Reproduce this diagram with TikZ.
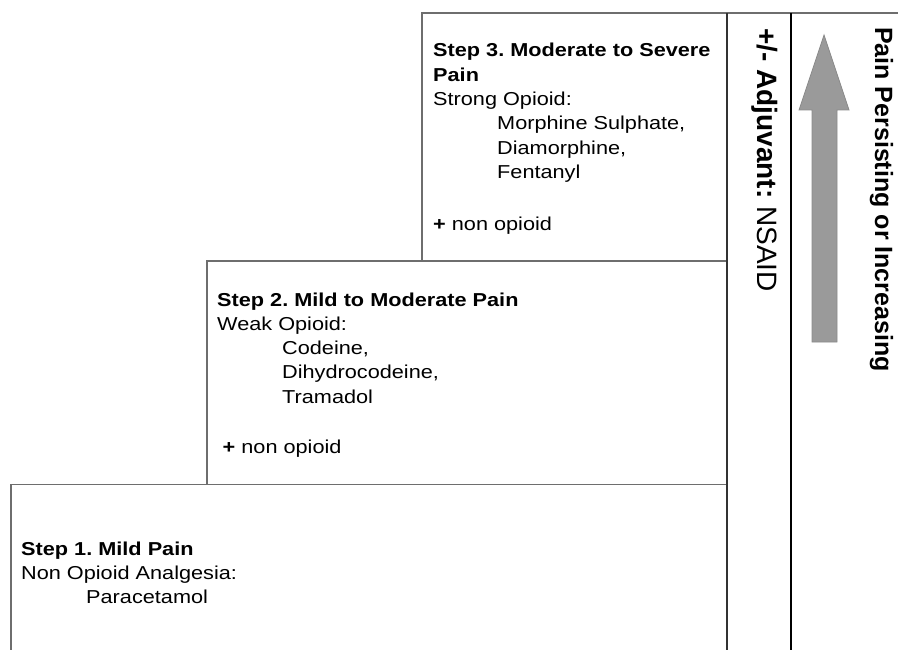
\documentclass[tikz,border=0pt]{standalone}
\usepackage{fontspec}
\setmainfont{Liberation Sans}
\newfontfamily\bodyfont[FakeStretch=1.16]{Liberation Sans}
\frenchspacing
\definecolor{boxgray}{HTML}{6E6E6E}
\definecolor{bardark}{HTML}{333333}
\definecolor{arrowfill}{HTML}{9A9A9A}
\definecolor{arrowedge}{HTML}{8A8A8A}
\begin{document}
\begin{tikzpicture}[x=1pt,y=-1pt,
  boxline/.style={draw=boxgray,line width=1.3pt},
  stepnode/.style={anchor=base west,inner sep=0pt,
    font=\bodyfont\fontsize{18.7}{24.3}\selectfont},
  sidenote/.style={anchor=base west,inner sep=0pt,rotate=-90},
  bigarrow/.style={fill=arrowfill,draw=arrowedge,line width=0.8pt,line join=miter}]
\useasboundingbox (0,0) rectangle (898,650);

% staircase outline
\draw[boxline] (898,13) -- (422,13) -- (422,261);
\draw[boxline] (727,261) -- (207,261) -- (207,484.5);
\draw[boxline] (727,484.5) -- (11,484.5) -- (11,650);
% column dividers
\draw[draw=bardark,line width=1.4pt] (727,13) -- (727,650);
\draw[draw=black,line width=1.3pt] (791,13) -- (791,650);

% step texts
\node[stepnode] (step3) at (433,57) {\begin{tabular}[t]{@{}l@{}}
  \textbf{Step 3. Moderate to Severe}\\
  \textbf{Pain}\\
  Strong Opioid:\\
  \hspace{64pt}Morphine Sulphate,\\
  \hspace{64pt}Diamorphine,\\
  \hspace{64pt}Fentanyl\\[3pt]
  \\
  \textbf{+} non opioid
\end{tabular}};

\node[stepnode] (step2) at (217,306) {\begin{tabular}[t]{@{}l@{}}
  \textbf{Step 2. Mild to Moderate Pain}\\
  Weak Opioid:\\
  \hspace{65pt}Codeine,\\
  \hspace{65pt}Dihydrocodeine,\\
  \hspace{65pt}Tramadol\\[2pt]
  \\
  \hspace{5.5pt}\textbf{+} non opioid
\end{tabular}};

\node[stepnode] (step1) at (21,555) {\begin{tabular}[t]{@{}l@{}}
  \textbf{Step 1. Mild Pain}\\
  Non Opioid Analgesia:\\
  \hspace{65pt}Paracetamol
\end{tabular}};

% side columns
\node[sidenote,font=\fontsize{28}{32}\selectfont] (adjuvant) at (757,28)
  {\textbf{+/- Adjuvant:} NSAID};
\node[sidenote,font=\bfseries\fontsize{25}{30}\selectfont] (pain) at (875,27)
  {Pain Persisting or Increasing};

% escalation arrow
\draw[bigarrow] (812,342) -- (812,110) -- (799,110) -- (824,35)
  -- (849,110) -- (837,110) -- (837,342) -- cycle;
\end{tikzpicture}
\end{document}
